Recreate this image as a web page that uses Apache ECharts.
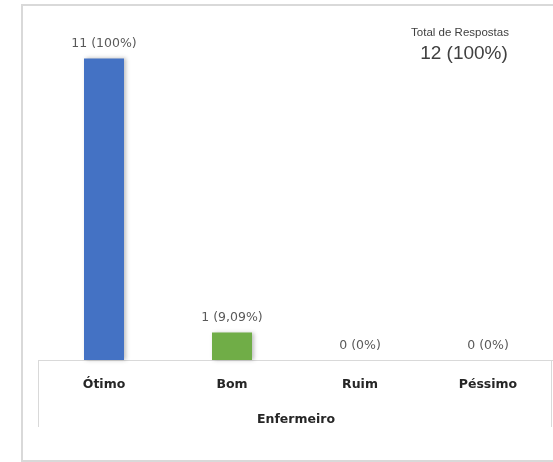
<!DOCTYPE html>
<html><head><meta charset="utf-8">
<script src="https://cdn.jsdelivr.net/npm/echarts@6/dist/echarts.min.js"></script>
<style>html,body{margin:0;padding:0;background:#fff}#c{width:553px;height:462px}</style>
</head><body><div id="c"></div>
<script>
const categories = ['Ótimo', 'Bom', 'Ruim', 'Péssimo'];
const counts = [11, 1, 0, 0];
const percents = ['100%', '9,09%', '0%', '0%'];
const barColors = ['#4472C4', '#70AD47', '#A5A5A5', '#FFC000'];
const axisTitle = 'Enfermeiro';
const totalTitle = 'Total de Respostas';
const totalValue = '12 (100%)';

const chart = echarts.init(document.getElementById('c'));
const font = '"DejaVu Sans", sans-serif';
chart.setOption({
  animation: false,
  grid: { left: 40, right: 1, top: 31, bottom: 102 },
  xAxis: {
    type: 'category',
    data: categories,
    axisLine: { lineStyle: { color: '#d9d9d9', width: 1 } },
    axisTick: { show: false },
    axisLabel: { margin: 18, color: '#262626', fontWeight: 'bold', fontSize: 12.5, fontFamily: font },
    name: axisTitle,
    nameLocation: 'middle',
    nameGap: 53,
    nameTextStyle: { color: '#262626', fontWeight: 'bold', fontSize: 12.5, fontFamily: font }
  },
  yAxis: { type: 'value', min: 0, max: 12, show: false, splitLine: { show: false } },
  series: [{
    type: 'bar',
    barWidth: 40,
    data: counts.map((v, i) => ({ value: v, itemStyle: { color: barColors[i] } })),
    itemStyle: { shadowColor: 'rgba(0,0,0,0.25)', shadowBlur: 4, shadowOffsetX: 2, shadowOffsetY: 0 },
    label: {
      show: true, position: 'top', distance: 8,
      color: '#595959', fontSize: 12.5, fontFamily: font,
      formatter: p => p.value + ' (' + percents[p.dataIndex] + ')'
    }
  }],
  graphic: [
    { type: 'rect', shape: { x: 22, y: 5, width: 560, height: 456 }, style: { fill: 'none', stroke: '#d9d9d9', lineWidth: 2 }, silent: true },
    { type: 'line', shape: { x1: 38.5, y1: 360, x2: 38.5, y2: 427 }, style: { stroke: '#d9d9d9', lineWidth: 1 } },
    { type: 'line', shape: { x1: 38, y1: 360.5, x2: 553, y2: 360.5 }, style: { stroke: '#d9d9d9', lineWidth: 1 } },
    { type: 'line', shape: { x1: 551.5, y1: 360, x2: 551.5, y2: 427 }, style: { stroke: '#d9d9d9', lineWidth: 1 } },
    { type: 'text', x: 460, y: 33, style: { text: totalTitle, fill: '#404040', fontSize: 11.5, fontFamily: '"Liberation Sans", Arial, sans-serif', align: 'center', verticalAlign: 'middle' } },
    { type: 'text', x: 464, y: 54, style: { text: totalValue, fill: '#404040', fontSize: 19, fontFamily: '"Liberation Sans", Arial, sans-serif', align: 'center', verticalAlign: 'middle' } }
  ]
});
</script></body></html>
